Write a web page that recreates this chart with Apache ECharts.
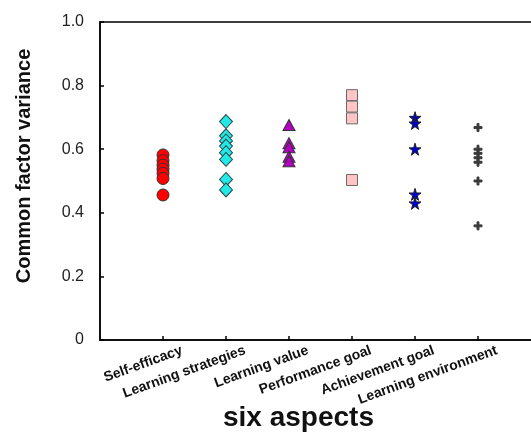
<!DOCTYPE html>
<html>
<head>
<meta charset="utf-8">
<script src="https://cdn.jsdelivr.net/npm/echarts@6/dist/echarts.min.js"></script>
<style>
html,body{margin:0;padding:0;background:#fff;}
#chart{width:531px;height:432px;}
</style>
</head>
<body>
<div id="chart"></div>
<script>
var categories = ['Self-efficacy', 'Learning strategies', 'Learning value', 'Performance goal', 'Achievement goal', 'Learning environment'];
var selfEfficacy = [0.582, 0.564, 0.55, 0.537, 0.524, 0.508, 0.456];
var learningStrategies = [0.687, 0.642, 0.626, 0.61, 0.589, 0.568, 0.505, 0.472];
var learningValue = [0.676, 0.619, 0.606, 0.576, 0.562];
var performanceGoal = [0.77, 0.734, 0.697, 0.503];
var achievementGoal = [0.699, 0.681, 0.6, 0.458, 0.43];
var learningEnvironment = [0.668, 0.6, 0.587, 0.573, 0.559, 0.5, 0.359];
var yTickLabels = ['0', '0.2', '0.4', '0.6', '0.8', '1.0'];

var groups = [selfEfficacy, learningStrategies, learningValue, performanceGoal, achievementGoal, learningEnvironment];
var STAR = 'path://M50,0 L61,35 L98,35 L68,57 L79,91 L50,70 L21,91 L32,57 L2,35 L39,35 Z';
var PLUS = 'path://M38,0 H62 V38 H100 V62 H62 V100 H38 V62 H0 V38 H38 Z';
var styles = [
  {symbol: 'circle', size: 12, color: '#ff0000', border: '#333333'},
  {symbol: 'diamond', size: [13, 14], color: '#22e8e8', border: '#2a4a4a'},
  {symbol: 'triangle', size: [12, 11], color: '#b400c0', border: '#333333'},
  {symbol: 'rect', size: 11, color: '#ffc4c4', border: '#6a6a6a'},
  {symbol: STAR, size: 12, color: '#0000d0', border: '#222222'},
  {symbol: PLUS, size: 8, color: '#3a3a3a', border: '#3a3a3a'}
];
var labelShift = 0.3;
var catPositions = categories.map(function (c, i) { return i + 1; });

var series = groups.map(function (vals, i) {
  var st = styles[i];
  return {
    type: 'scatter',
    name: categories[i],
    symbol: st.symbol,
    symbolSize: st.size,
    itemStyle: {color: st.color, borderColor: st.border, borderWidth: 1, opacity: 1},
    data: vals.map(function (v) { return [i + 1, v]; }),
    z: 3
  };
});

var chart = echarts.init(document.getElementById('chart'), null, {renderer: 'canvas'});
chart.setOption({
  animation: false,
  backgroundColor: '#ffffff',
  grid: {left: 100, top: 22, width: 441, height: 318, outerBoundsMode: 'none', containLabel: false, show: true, borderColor: '#000', borderWidth: 1.5, backgroundColor: 'transparent'},
  xAxis: {
    type: 'value', min: 0, max: 7,
    axisLine: {show: true, onZero: false, lineStyle: {color: '#000', width: 1.5}},
    axisTick: {show: true, inside: true, length: 4, customValues: catPositions, lineStyle: {color: '#000', width: 1.5}},
    splitLine: {show: false},
    axisLabel: {
      customValues: catPositions.map(function (p) { return p + labelShift; }),
      rotate: 20, margin: 10,
      fontFamily: 'Liberation Sans, Arial, sans-serif', fontWeight: 'bold', fontSize: 14, color: '#111',
      formatter: function (v) { return categories[Math.round(v - labelShift) - 1] || ''; }
    },
    name: 'six aspects', nameLocation: 'middle', nameGap: 64, nameMoveOverlap: false,
    nameTextStyle: {fontFamily: 'Liberation Sans, Arial, sans-serif', fontWeight: 'bold', fontSize: 28, color: '#111', padding: [0, 44, 0, 0]}
  },
  yAxis: {
    type: 'value', min: 0, max: 1, interval: 0.2,
    axisLine: {show: true, lineStyle: {color: '#000', width: 1.5}},
    axisTick: {show: true, inside: true, length: 4, lineStyle: {color: '#000', width: 1.5}},
    splitLine: {show: false},
    axisLabel: {
      margin: 16, fontFamily: 'Liberation Sans, Arial, sans-serif', fontSize: 16, color: '#222',
      formatter: function (v) { return yTickLabels[Math.round(v / 0.2)]; }
    },
    name: 'Common factor variance', nameLocation: 'middle', nameGap: 66, nameMoveOverlap: false,
    nameTextStyle: {fontFamily: 'Liberation Sans, Arial, sans-serif', fontWeight: 'bold', fontSize: 20, color: '#111', padding: [0, 0, 0, 30]}
  },
  series: series
});
</script>
</body>
</html>
